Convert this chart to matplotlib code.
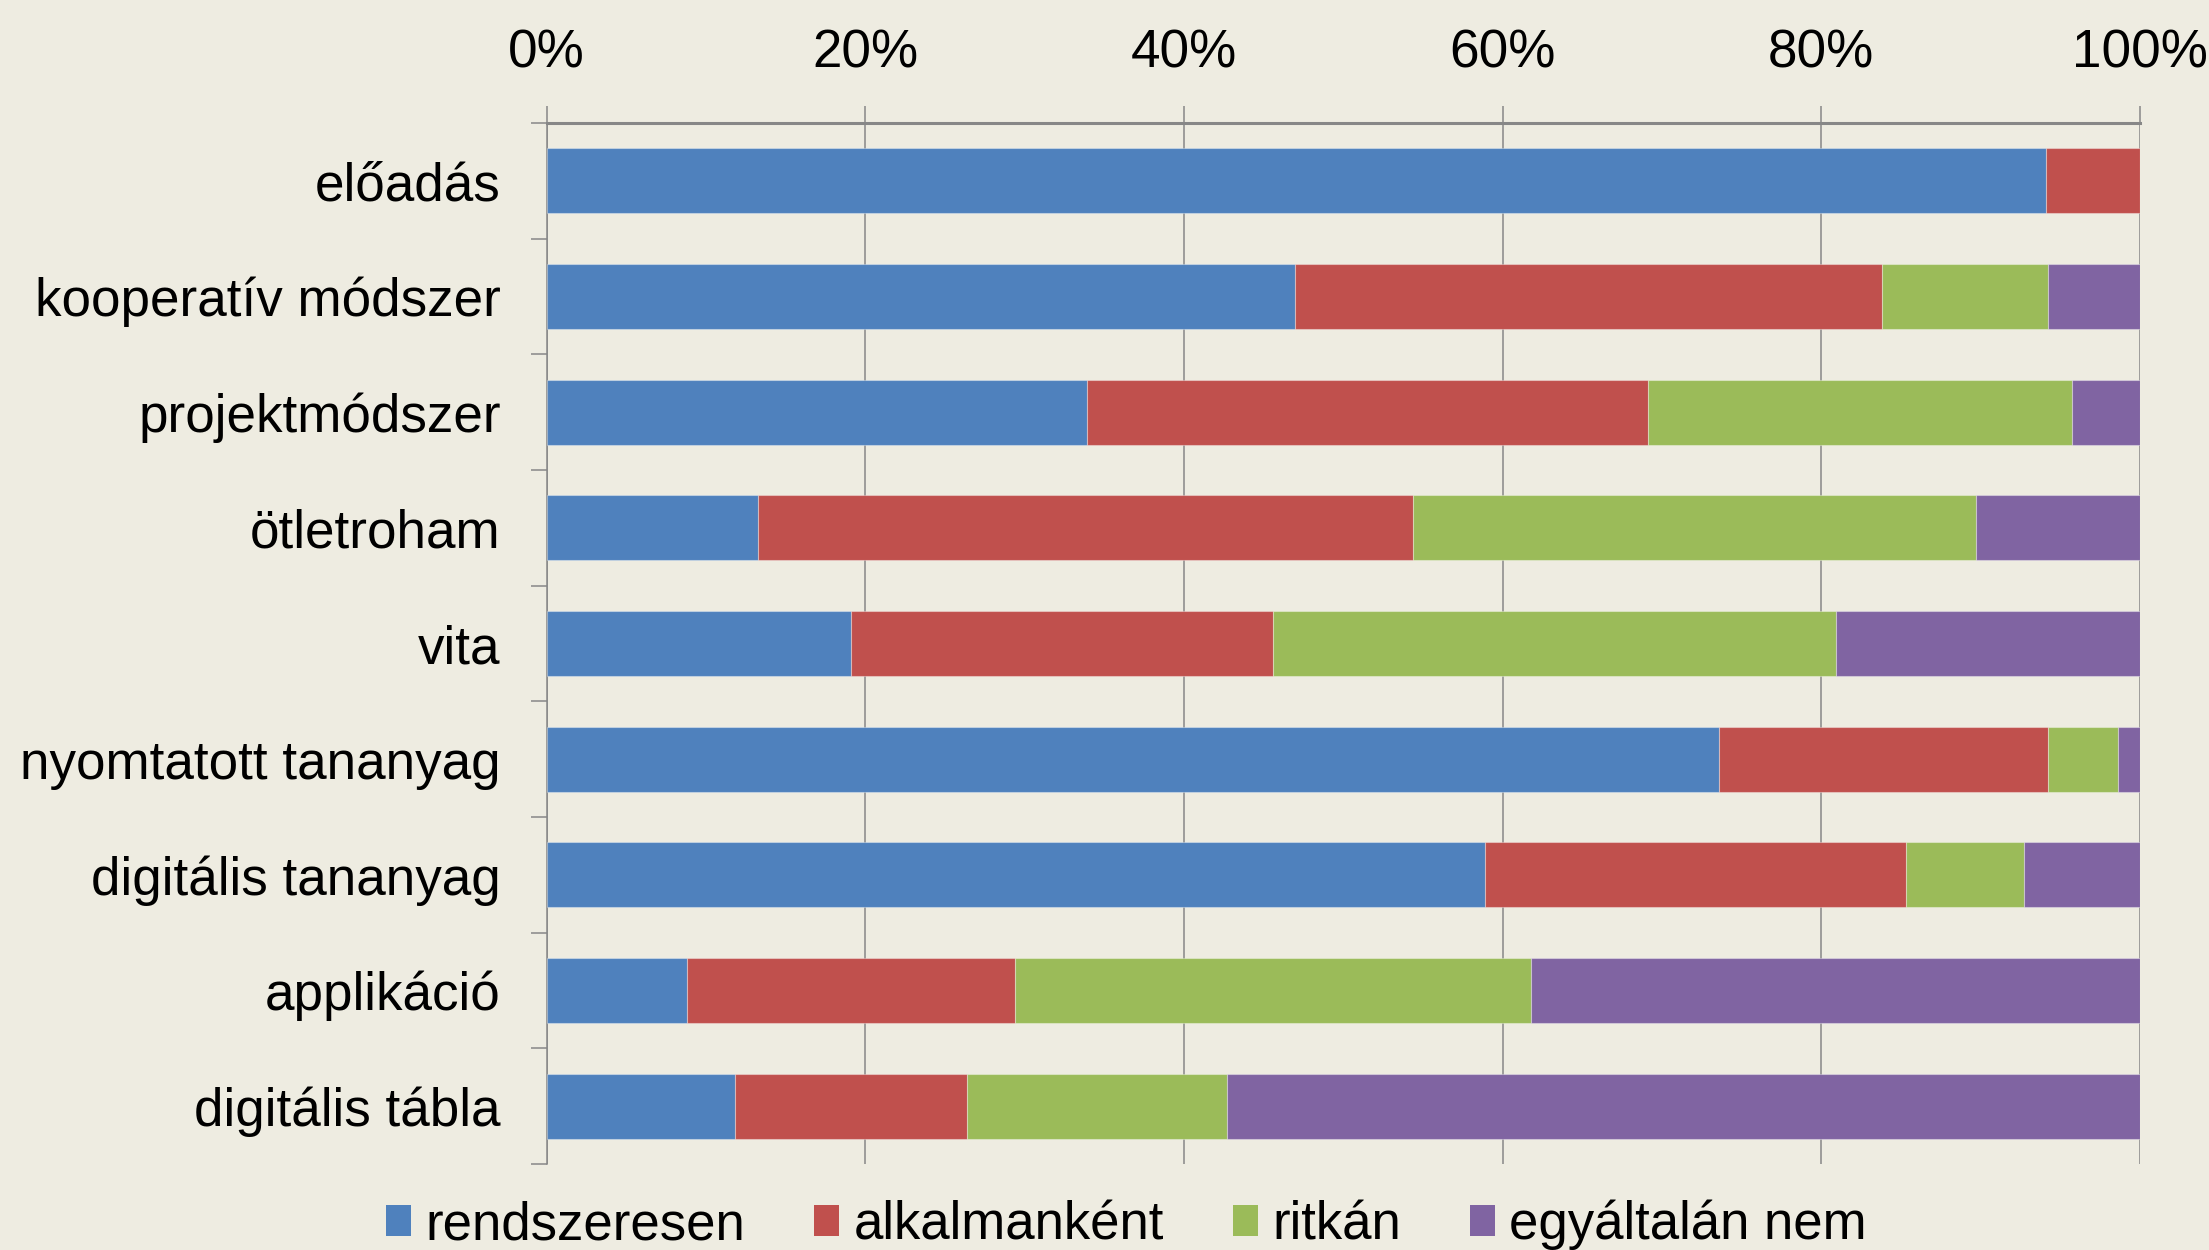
import matplotlib
matplotlib.use("Agg")
import matplotlib.pyplot as plt
from matplotlib.patches import Patch
import numpy as np

plt.rcParams['font.family'] = ['Liberation Sans', 'DejaVu Sans']

categories = ["előadás", "kooperatív módszer", "projektmódszer", "ötletroham", "vita",
              "nyomtatott tananyag", "digitális tananyag", "applikáció", "digitális tábla"]
series_names = ["rendszeresen", "alkalmanként", "ritkán", "egyáltalán nem"]
rendszeresen = [94.1, 47.0, 33.9, 13.3, 19.1, 73.6, 58.9, 8.8, 11.8]
alkalmankent = [5.9, 36.8, 35.2, 41.1, 26.5, 20.6, 26.4, 20.6, 14.6]
ritkan = [0.0, 10.4, 26.6, 35.3, 35.3, 4.4, 7.4, 32.4, 16.3]
egyaltalan_nem = [0.0, 5.8, 4.3, 10.3, 19.1, 1.4, 7.3, 38.2, 57.3]
xtick_values = [0, 20, 40, 60, 80, 100]
xtick_labels = ["0%", "20%", "40%", "60%", "80%", "100%"]

colors = ["#4F81BD", "#C0504D", "#9BBB59", "#8064A2"]
bg = "#EEECE1"
grid_c = "#878787"

fig = plt.figure(figsize=(22.09, 12.5), dpi=100, facecolor=bg)
ax = fig.add_axes([0.2474, 0.0688, 0.9688 - 0.2474, 0.9016 - 0.0688])
ax.set_facecolor(bg)

y = np.arange(len(categories))
left = np.zeros(len(categories))
handles = []
for vals, col, name in zip([rendszeresen, alkalmankent, ritkan, egyaltalan_nem], colors, series_names):
    vals = np.array(vals)
    ax.barh(y, vals, left=left, height=0.56, color=col, edgecolor=(1, 1, 1, 0.35),
            linewidth=0.8, zorder=3)
    left += vals
    handles.append(Patch(facecolor=col, edgecolor='none', label=name))

ax.set_xlim(0, 100)
ax.set_ylim(len(categories) - 0.5, -0.5)

# x axis on top
ax.xaxis.tick_top()
ax.set_xticks(xtick_values)
ax.set_xticklabels(xtick_labels, fontsize=38.2)
ax.tick_params(axis='x', which='major', direction='out', length=12, width=1.1,
               color=grid_c, pad=20)
ax.grid(axis='x', color=grid_c, linewidth=1.1, zorder=0)
ax.set_axisbelow(True)

# y axis
ax.set_yticks(y)
ax.set_yticklabels(categories, fontsize=38.2)
ax.tick_params(axis='y', which='major', length=0, pad=33)
ax.set_yticks(np.arange(len(categories) + 1) - 0.5, minor=True)
ax.tick_params(axis='y', which='minor', direction='out', length=11.5, width=1.1, color=grid_c)

for s in ['right', 'bottom']:
    ax.spines[s].set_visible(False)
ax.spines['top'].set_color(grid_c)
ax.spines['top'].set_linewidth(2.2)
ax.spines['left'].set_color(grid_c)
ax.spines['left'].set_linewidth(1.1)

fig.legend(handles=handles, loc='center', bbox_to_anchor=(0.51, 0.02), ncol=4,
           frameon=False, fontsize=38, handlelength=0.47, handleheight=0.53,
           handletextpad=0.28, columnspacing=1.3, borderpad=0, borderaxespad=0)

fig.savefig("out.png", dpi=100, facecolor=bg)
